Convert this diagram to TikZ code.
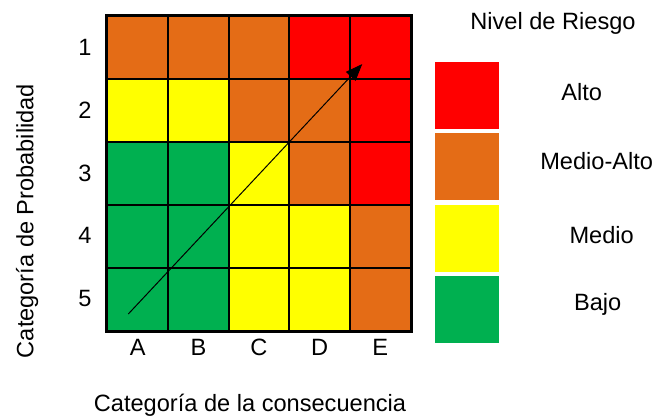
\documentclass[tikz,border=0pt]{standalone}
\usepackage{fontspec}
\setmainfont{Liberation Sans}
\usetikzlibrary{arrows.meta}
\definecolor{cR}{HTML}{FF0000}
\definecolor{cO}{HTML}{E46C16}
\definecolor{cY}{HTML}{FFFF00}
\definecolor{cG}{HTML}{00B050}
\begin{document}
\begin{tikzpicture}[x=1pt,y=-1pt,
  txt/.style={font=\fontsize{23.6}{26}\selectfont, inner sep=0pt, anchor=base},
  cell/.style={draw=black, line width=1.8pt, minimum width=60.6pt, minimum height=62.9pt, inner sep=0pt},
  legbox/.style={draw=none, minimum width=64pt, minimum height=67pt, inner sep=0pt}]
\useasboundingbox (0,0) rectangle (657,420);
% grid cells
\foreach \r/\lst in {1/{O,O,O,R,R},2/{Y,Y,O,O,R},3/{G,G,Y,O,R},4/{G,G,Y,Y,O},5/{G,G,Y,Y,O}}{
  \foreach \c [count=\i] in \lst {
    \node[cell, fill=c\c] (cell-\r-\i) at ({107.5+60.6*(\i-0.5)},{16+62.9*(\r-0.5)}) {};
  }
}
\draw[line width=2.4pt] (cell-1-1.north west) rectangle (cell-5-5.south east);
% row labels
\foreach \r/\b in {1/56,2/119,3/181.7,4/243.3,5/306.7}{
  \node[txt] (row-\r) at (85,\b) {\r};
}
% column labels
\foreach \l [count=\i] in {A,B,C,D,E}{
  \node[txt] (col-\i) at ({107.5+60.6*(\i-0.5)},355) {\l};
}
% arrow
\coordinate (arS) at (128.3,314);
\coordinate (arE) at (362.3,64);
\draw[line width=1pt, -{Triangle[length=17pt,width=13pt]}] (arS) -- (arE);
% axis labels
\node[txt, rotate=90] (ylab) at (33.3,221) {Categoría de Probabilidad};
\node[txt] (xlab) at (250,411.7) {Categoría de la consecuencia};
% legend
\node[txt] (legtitle) at (553,29.3) {Nivel de Riesgo};
\node[legbox, fill=cR] (leg-R) at (466.7,95.2) {};
\node[legbox, fill=cO] (leg-O) at (466.7,166.8) {};
\node[legbox, fill=cY] (leg-Y) at (466.7,238.3) {};
\node[legbox, fill=cG] (leg-G) at (466.7,309.7) {};
\node[txt] (lab-R) at (581.7,101) {Alto};
\node[txt] (lab-O) at (596.7,170) {Medio-Alto};
\node[txt] (lab-Y) at (601.7,243.3) {Medio};
\node[txt] (lab-G) at (597.7,310.7) {Bajo};
\end{tikzpicture}
\end{document}
